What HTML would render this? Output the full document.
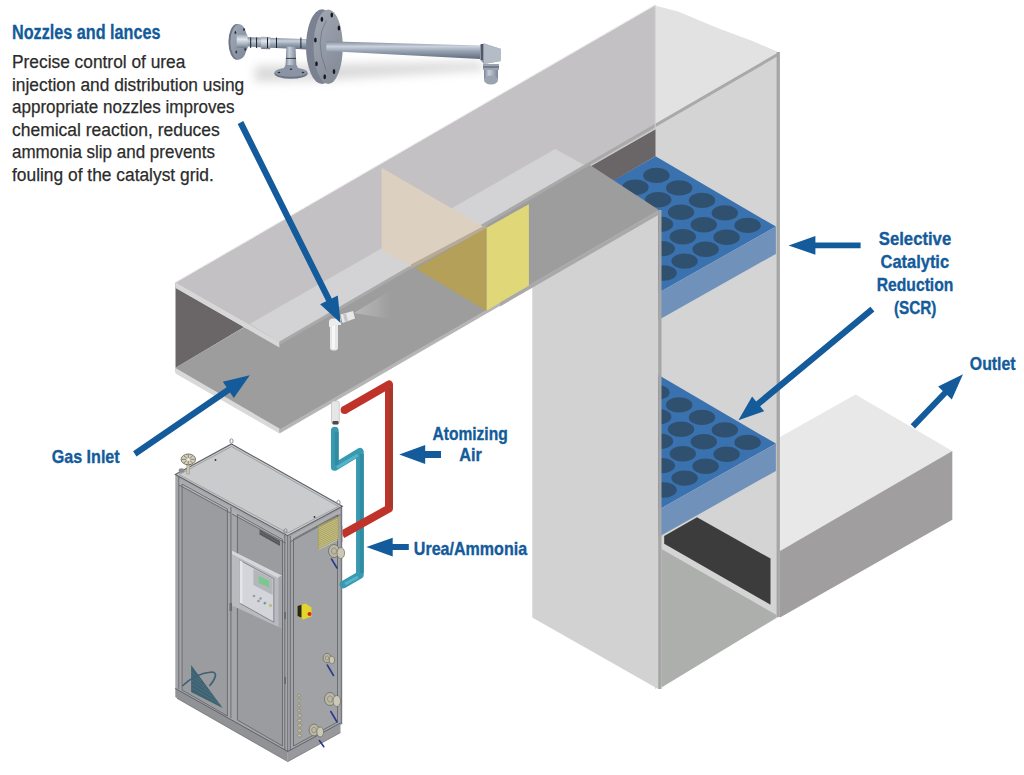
<!DOCTYPE html>
<html><head><meta charset="utf-8"><title>SCR system</title>
<style>
html,body{margin:0;padding:0;background:#ffffff;overflow:hidden;}
body{width:1024px;height:775px;font-family:"Liberation Sans",sans-serif;}
svg{display:block;}
</style></head>
<body>
<svg width="1024" height="775" viewBox="0 0 1024 775">
<defs>
  <clipPath id="scr1"><polygon points="655.5,156.3 775.9,226.6 600,325.8 540,222"/></clipPath>
  <clipPath id="scr2"><polygon points="655.5,373.3 775.9,443.6 600,542.8 540,439"/></clipPath>
  <linearGradient id="pipeg" x1="0" y1="0" x2="0" y2="1">
    <stop offset="0" stop-color="#7d8898"/>
    <stop offset="0.3" stop-color="#c9d1dc"/>
    <stop offset="0.55" stop-color="#98a4b4"/>
    <stop offset="1" stop-color="#5f6a7a"/>
  </linearGradient>
  <linearGradient id="flg" x1="0" y1="0" x2="1" y2="1">
    <stop offset="0" stop-color="#a2abb8"/>
    <stop offset="1" stop-color="#7c8696"/>
  </linearGradient>
  <linearGradient id="pipeg2" x1="0" y1="0" x2="0" y2="1">
    <stop offset="0" stop-color="#9aa4b2"/>
    <stop offset="0.35" stop-color="#e4e8ee"/>
    <stop offset="0.7" stop-color="#a8b2c0"/>
    <stop offset="1" stop-color="#6a7484"/>
  </linearGradient>
  <linearGradient id="pipeh" x1="0" y1="0" x2="1" y2="0">
    <stop offset="0" stop-color="#7a8494"/>
    <stop offset="0.35" stop-color="#c6ced8"/>
    <stop offset="1" stop-color="#7c8696"/>
  </linearGradient>
  <linearGradient id="flf" x1="0" y1="0" x2="0.6" y2="1">
    <stop offset="0" stop-color="#a4aab4"/>
    <stop offset="1" stop-color="#858c98"/>
  </linearGradient>
  <filter id="blur5" x="-20%" y="-100%" width="140%" height="300%"><feGaussianBlur stdDeviation="5"/></filter>
  <radialGradient id="shad" cx="0.5" cy="0.5" r="0.5">
    <stop offset="0" stop-color="#d8d8d8" stop-opacity="0.9"/>
    <stop offset="1" stop-color="#ffffff" stop-opacity="0"/>
  </radialGradient>
  <linearGradient id="spray" x1="0" y1="0" x2="1" y2="0">
    <stop offset="0" stop-color="#bcbcbc" stop-opacity="0.9"/>
    <stop offset="0.6" stop-color="#b0b0b0" stop-opacity="0.6"/>
    <stop offset="1" stop-color="#a0a0a0" stop-opacity="0"/>
  </linearGradient>
  <linearGradient id="redg" x1="0" y1="0" x2="1" y2="0">
    <stop offset="0" stop-color="#c8342a"/>
    <stop offset="1" stop-color="#a8382c"/>
  </linearGradient>
</defs>
<polygon points="255,66 330,64 480,62 485,70 330,80 255,82" fill="#cfcfcf" opacity="0.75" filter="url(#blur5)"/>
<ellipse cx="237" cy="41.9" rx="8.6" ry="17.8" fill="#6e7686"/>
<ellipse cx="239" cy="41.9" rx="8.6" ry="17.6" fill="url(#flg)"/>
<ellipse cx="244" cy="29.5" rx="0.9" ry="1.5" fill="#2a3346"/>
<ellipse cx="235.4" cy="32.6" rx="0.9" ry="1.5" fill="#2a3346"/>
<ellipse cx="236.3" cy="52" rx="0.9" ry="1.5" fill="#2a3346"/>
<ellipse cx="245.3" cy="49.3" rx="0.9" ry="1.5" fill="#2a3346"/>
<polygon points="247,37.1 318,39.5 318,50 247,46.6" fill="url(#pipeg)"/>
<polygon points="236.7,34.4 247.6,35 247.6,48.4 236.7,47.5" fill="url(#pipeg2)"/>
<polygon points="261.1,36.7 270.2,36.9 270.2,49.3 261.1,49" fill="url(#pipeg2)"/>
<line x1="250.7" y1="37.5" x2="250.7" y2="48.0" stroke="#1c2026" stroke-width="1.0" />
<line x1="256.6" y1="37.5" x2="256.6" y2="48.0" stroke="#1c2026" stroke-width="1.0" />
<line x1="267.5" y1="37.5" x2="267.5" y2="48.0" stroke="#1c2026" stroke-width="1.0" />
<line x1="276.5" y1="37.5" x2="276.5" y2="48.0" stroke="#1c2026" stroke-width="1.0" />
<line x1="300.9" y1="37.5" x2="300.9" y2="48.0" stroke="#1c2026" stroke-width="1.0" />
<polygon points="286.4,46.6 295.5,47 296.5,69 285.4,69" fill="url(#pipeh)"/>
<line x1="286.0" y1="58.4" x2="296.0" y2="58.4" stroke="#2a2e36" stroke-width="0.9" />
<ellipse cx="291" cy="73.6" rx="16.7" ry="5.2" fill="#6c7484"/>
<ellipse cx="291" cy="72.2" rx="16.3" ry="4.6" fill="#8a94a4"/>
<polygon points="285.5,65 296.5,65 299.5,71 282.5,71" fill="#8a94a4"/>
<ellipse cx="279" cy="72.5" rx="1.3" ry="0.7" fill="#2a2e36"/>
<ellipse cx="303" cy="72.5" rx="1.3" ry="0.7" fill="#2a2e36"/>
<ellipse cx="291" cy="69.3" rx="1.3" ry="0.7" fill="#2a2e36"/>
<ellipse cx="322" cy="46.7" rx="16" ry="37.4" fill="#7a8292"/>
<ellipse cx="328.2" cy="46.7" rx="14.6" ry="37.3" fill="url(#flf)"/>
<path d="M 326.3 20.4 Q 314 41 326.3 70.8" fill="none" stroke="#6c7686" stroke-width="0.8"/>
<ellipse cx="331.8" cy="14.9" rx="1.3" ry="2.5" fill="#16191e"/>
<ellipse cx="321.9" cy="19.3" rx="1.3" ry="2.5" fill="#16191e"/>
<ellipse cx="338.9" cy="28" rx="1.3" ry="2.5" fill="#16191e"/>
<ellipse cx="315.4" cy="40.1" rx="1.3" ry="2.5" fill="#16191e"/>
<ellipse cx="316.5" cy="63.7" rx="1.3" ry="2.5" fill="#16191e"/>
<ellipse cx="334" cy="71.4" rx="1.3" ry="2.5" fill="#16191e"/>
<ellipse cx="324.7" cy="76.8" rx="1.3" ry="2.5" fill="#16191e"/>
<polygon points="326.3,41.2 480,45.5 480,59 326.3,51.1" fill="url(#pipeg)"/>
<polygon points="480,44.5 484,43.5 501,49 501,61 484,64 480,59.5" fill="#8d98a8"/>
<polygon points="484,43.5 501,49 501,61 484,64" fill="#b4bcc8"/>
<line x1="482.0" y1="44.0" x2="482.0" y2="60.0" stroke="#2a2e36" stroke-width="1.2" />
<rect x="483" y="64" width="16" height="6" fill="#9aa4b2"/>
<rect x="484" y="70" width="14" height="9" fill="url(#pipeh)"/>
<ellipse cx="491" cy="80" rx="7" ry="4.5" fill="#9aa4b0"/>
<line x1="483.0" y1="67.0" x2="499.0" y2="67.0" stroke="#3a3f48" stroke-width="0.8" />
<polygon points="655.0,5.4 678.8,11.8 717.5,27.9 751.9,40.8 778.7,52.2 778.7,54.0 655.0,125.0" fill="#e2e2e2" />
<polygon points="655.0,124.6 778.7,53.7 778.7,617.0 655.0,689.0" fill="#d4d4d4" />
<polygon points="175.0,283.0 655.0,5.4 655.0,129.3 279.4,344.0 175.0,288.0" fill="#c3c1c3" />
<line x1="175.0" y1="282.6" x2="655.0" y2="5.0" stroke="#e6e6e6" stroke-width="1.0" />
<polygon points="655.5,156.3 775.9,226.6 600.0,325.8 540.0,222.0" fill="#3a72b0" />
<g clip-path="url(#scr1)"><ellipse cx="747.6" cy="225.4" rx="13.2" ry="7.7" fill="#30506f"/><ellipse cx="726.6" cy="237.3" rx="13.2" ry="7.7" fill="#30506f"/><ellipse cx="705.6" cy="249.2" rx="13.2" ry="7.7" fill="#30506f"/><ellipse cx="684.6" cy="261.1" rx="13.2" ry="7.7" fill="#30506f"/><ellipse cx="663.6" cy="273.0" rx="13.2" ry="7.7" fill="#30506f"/><ellipse cx="642.6" cy="284.9" rx="13.2" ry="7.7" fill="#30506f"/><ellipse cx="621.6" cy="296.8" rx="13.2" ry="7.7" fill="#30506f"/><ellipse cx="724.8" cy="212.9" rx="13.2" ry="7.7" fill="#30506f"/><ellipse cx="703.8" cy="224.8" rx="13.2" ry="7.7" fill="#30506f"/><ellipse cx="682.8" cy="236.7" rx="13.2" ry="7.7" fill="#30506f"/><ellipse cx="661.8" cy="248.6" rx="13.2" ry="7.7" fill="#30506f"/><ellipse cx="640.8" cy="260.5" rx="13.2" ry="7.7" fill="#30506f"/><ellipse cx="619.8" cy="272.4" rx="13.2" ry="7.7" fill="#30506f"/><ellipse cx="702.0" cy="200.4" rx="13.2" ry="7.7" fill="#30506f"/><ellipse cx="681.0" cy="212.3" rx="13.2" ry="7.7" fill="#30506f"/><ellipse cx="660.0" cy="224.2" rx="13.2" ry="7.7" fill="#30506f"/><ellipse cx="639.0" cy="236.1" rx="13.2" ry="7.7" fill="#30506f"/><ellipse cx="618.0" cy="248.0" rx="13.2" ry="7.7" fill="#30506f"/><ellipse cx="679.2" cy="187.9" rx="13.2" ry="7.7" fill="#30506f"/><ellipse cx="658.2" cy="199.8" rx="13.2" ry="7.7" fill="#30506f"/><ellipse cx="637.2" cy="211.7" rx="13.2" ry="7.7" fill="#30506f"/><ellipse cx="616.2" cy="223.6" rx="13.2" ry="7.7" fill="#30506f"/><ellipse cx="656.4" cy="175.4" rx="13.2" ry="7.7" fill="#30506f"/><ellipse cx="635.4" cy="187.3" rx="13.2" ry="7.7" fill="#30506f"/><ellipse cx="614.4" cy="199.2" rx="13.2" ry="7.7" fill="#30506f"/></g>
<polygon points="775.9,226.6 775.9,253.9 600.0,353.0 600.0,325.8" fill="#7092ba" />
<polygon points="655.5,373.3 775.9,443.6 600.0,542.8 540.0,439.0" fill="#3a72b0" />
<g clip-path="url(#scr2)"><ellipse cx="747.6" cy="442.4" rx="13.2" ry="7.7" fill="#30506f"/><ellipse cx="726.6" cy="454.3" rx="13.2" ry="7.7" fill="#30506f"/><ellipse cx="705.6" cy="466.2" rx="13.2" ry="7.7" fill="#30506f"/><ellipse cx="684.6" cy="478.1" rx="13.2" ry="7.7" fill="#30506f"/><ellipse cx="663.6" cy="490.0" rx="13.2" ry="7.7" fill="#30506f"/><ellipse cx="642.6" cy="501.9" rx="13.2" ry="7.7" fill="#30506f"/><ellipse cx="621.6" cy="513.8" rx="13.2" ry="7.7" fill="#30506f"/><ellipse cx="724.8" cy="429.9" rx="13.2" ry="7.7" fill="#30506f"/><ellipse cx="703.8" cy="441.8" rx="13.2" ry="7.7" fill="#30506f"/><ellipse cx="682.8" cy="453.7" rx="13.2" ry="7.7" fill="#30506f"/><ellipse cx="661.8" cy="465.6" rx="13.2" ry="7.7" fill="#30506f"/><ellipse cx="640.8" cy="477.5" rx="13.2" ry="7.7" fill="#30506f"/><ellipse cx="619.8" cy="489.4" rx="13.2" ry="7.7" fill="#30506f"/><ellipse cx="702.0" cy="417.4" rx="13.2" ry="7.7" fill="#30506f"/><ellipse cx="681.0" cy="429.3" rx="13.2" ry="7.7" fill="#30506f"/><ellipse cx="660.0" cy="441.2" rx="13.2" ry="7.7" fill="#30506f"/><ellipse cx="639.0" cy="453.1" rx="13.2" ry="7.7" fill="#30506f"/><ellipse cx="618.0" cy="465.0" rx="13.2" ry="7.7" fill="#30506f"/><ellipse cx="679.2" cy="404.9" rx="13.2" ry="7.7" fill="#30506f"/><ellipse cx="658.2" cy="416.8" rx="13.2" ry="7.7" fill="#30506f"/><ellipse cx="637.2" cy="428.7" rx="13.2" ry="7.7" fill="#30506f"/><ellipse cx="616.2" cy="440.6" rx="13.2" ry="7.7" fill="#30506f"/><ellipse cx="656.4" cy="392.4" rx="13.2" ry="7.7" fill="#30506f"/><ellipse cx="635.4" cy="404.3" rx="13.2" ry="7.7" fill="#30506f"/><ellipse cx="614.4" cy="416.2" rx="13.2" ry="7.7" fill="#30506f"/></g>
<polygon points="775.9,443.6 775.9,470.9 600.0,570.0 600.0,542.8" fill="#7092ba" />
<polygon points="589.3,167.1 655.5,129.3 655.5,156.3 613.3,180.8" fill="#6a6668" />
<polygon points="249.7,323.9 555.2,149.1 585.5,165.7 279.4,341.9" fill="#d3d3d5" />
<polygon points="175.5,367.7 244.2,327.3 279.4,343.0 589.3,164.5 658.2,209.5 658.2,213.0 279.5,432.5 175.5,372.0" fill="#9d9d9d" />
<polygon points="354,313 392,289.5 394,319.5" fill="url(#spray)"/>
<polygon points="175.5,287.5 244.2,327.0 175.5,367.7" fill="#6a6668" />
<polygon points="175.5,282.5 279.4,341.9 279.4,347.4 175.5,288.0" fill="#d7d7d8" />
<polygon points="175.5,368.0 279.5,428.5 279.5,433.5 175.5,373.5" fill="#d9d9d9" />
<polygon points="279.5,429.5 658.2,210.5 658.2,214.0 279.5,433.5" fill="#b5b5b5" />
<polygon points="279.4,341.5 779.0,52.0 779.0,55.5 279.4,345.0" fill="#a9a9a9" />
<polygon points="381.6,167.8 486.5,228.6 411.0,266.5 381.6,250.1" fill="#dcd1c1" />
<polygon points="411.0,264.5 486.5,224.6 486.5,228.6 411.0,268.5" fill="#b8aa94" />
<polygon points="415.8,268.5 486.7,227.7 486.7,311.0" fill="#b4a058" />
<polygon points="486.7,227.7 528.9,204.2 528.9,286.0 486.7,310.6" fill="#e0d878" />
<polygon points="532.3,285.0 658.2,212.5 658.2,689.0 532.3,617.4" fill="#d2d2d2" />
<polygon points="500.0,302.5 658.2,211.0 658.2,215.0 500.0,306.5" fill="#a9a9a9" />
<rect x="658.2" y="210" width="3.3" height="479" fill="#a6a6a6"/>
<rect x="776.6" y="52" width="3.3" height="565" fill="#a6a6a6"/>
<line x1="655.2" y1="5.4" x2="655.2" y2="129.0" stroke="#d0d0d0" stroke-width="1" />
<polygon points="664.2,535.9 697.0,517.2 770.5,558.6 770.5,604.7 664.2,543.8" fill="#3c3c3c" />
<polygon points="661.5,549.0 776.6,615.0 776.6,617.5 661.5,687.5" fill="#adafad" />
<polygon points="780.0,436.9 855.6,394.6 952.3,450.9 780.0,551.0" fill="#e8e8e8" />
<polygon points="780.0,551.0 952.3,450.9 952.3,519.7 780.0,617.5" fill="#a09e9e" />
<polygon points="175.3,474.6 287.6,535.7 287.6,752.0 175.3,689.0" fill="#a4a6aa" />
<polygon points="287.6,535.7 342.3,506.3 342.3,724.0 287.6,752.0" fill="#a2a4a8" />
<polygon points="175.3,688.0 287.8,751.0 287.8,761.6 177.0,698.3 175.3,697.0" fill="#909296" />
<polygon points="287.8,751.0 340.5,722.5 340.5,732.6 287.8,761.6" fill="#97999d" />
<polyline points="175.3,688.5 287.8,751.5 340.5,723" fill="none" stroke="#5c5e62" stroke-width="0.9"/>
<polyline points="177,698.3 287.8,761.6 340.5,732.6" fill="none" stroke="#6e7074" stroke-width="0.8"/>
<polygon points="182.0,484.0 227.4,509.0 227.4,716.0 182.0,690.0" fill="#9a9ca0" />
<polygon points="237.4,514.5 282.5,539.5 282.5,746.0 237.4,720.0" fill="#9a9ca0" />
<polygon points="293.5,539.0 337.5,515.0 337.5,722.0 293.5,746.0" fill="#a0a2a6" />
<polygon points="178.8,479.0 230.4,507.3 230.4,513.0 178.8,484.7" fill="#aeb0b4" />
<polygon points="231.5,508.0 285.5,537.5 285.5,543.0 231.5,513.7" fill="#aeb0b4" />
<polygon points="289.5,537.0 340.5,509.5 340.5,514.5 289.5,542.0" fill="#aeb0b4" />
<g fill="none" stroke="#5e6064" stroke-width="0.8">
<polyline points="178.8,477 178.8,689"/>
<polyline points="182,484 227.4,509 227.4,716 182,690 182,484"/>
<polyline points="237.4,514.5 282.5,539.5 282.5,746 237.4,720 237.4,514.5"/>
<polyline points="293.5,539 337.5,515 337.5,722 293.5,746 293.5,539"/>
<polyline points="230.9,507 230.9,718"/>
<polyline points="287.6,535.7 287.6,752"/>
<polyline points="290.3,536 290.3,750"/>
<polyline points="284.8,535 284.8,750"/>
<polyline points="341.3,507 341.3,724"/>
<polyline points="179,485 230.4,513"/>
<polyline points="232,514 285.5,543"/>
<polyline points="290,542 340.5,514.5"/>
</g>
<g fill="none" stroke="#8a8c90" stroke-width="0.5" stroke-dasharray="1 1.2">
<polyline points="180,481 229,507.8"/>
<polyline points="233,510 284,538"/>
<polyline points="291,539.5 339,513"/>
</g>
<polygon points="231.5,444.0 342.3,506.3 287.6,535.7 175.3,474.6" fill="#c9cbcd" />
<polygon points="231.5,444 342.3,506.3 287.6,535.7 175.3,474.6" fill="none" stroke="#5e6064" stroke-width="1.1"/>
<polygon points="231.5,446.5 338.5,506.5 287.6,533 179,474.6" fill="none" stroke="#8c8e92" stroke-width="0.7"/>
<circle cx="215.5" cy="460" r="0.9" fill="#333"/>
<circle cx="314.5" cy="517" r="0.9" fill="#333"/>
<polygon points="259.5,529.5 280.0,541.0 280.0,546.0 259.5,534.5" fill="#56585c" />
<polyline points="260,532 279.5,543.3" stroke="#8a8c90" stroke-width="0.6" stroke-dasharray="1 0.8" fill="none"/>
<polygon points="232.0,550.8 281.9,575.8 281.9,628.6 232.0,605.4" fill="#b8bac0" />
<polygon points="232.0,550.8 281.9,575.8 279.0,578.5 232.0,554.0" fill="#d6d7dc" />
<polygon points="278.5,577.0 281.9,575.8 281.9,628.6 278.5,627.0" fill="#a4a6ac" />
<polygon points="239.5,560.1 273.8,578.7 273.8,622.2 239.5,603.0" fill="#d4d5da" stroke="#6a6c72" stroke-width="0.7"/>
<polygon points="239.5,560.1 242.5,561.7 242.5,603.5 239.5,603.0" fill="#e4e5e8" />
<polygon points="253.4,568.8 272.6,578.7 272.6,595.0 253.4,585.0" fill="#b4b6bc" />
<polygon points="258.7,575.8 269.1,581.0 269.1,587.4 258.7,582.7" fill="#7ac88e" />
<circle cx="254" cy="596" r="1.3" fill="#9a9ca2"/>
<circle cx="258.5" cy="601" r="1.3" fill="#9a9ca2"/>
<circle cx="260.5" cy="598.5" r="1.3" fill="#9a9ca2"/>
<circle cx="265" cy="603" r="1.3" fill="#9a9ca2"/>
<circle cx="270.5" cy="605.5" r="1.3" fill="#9a9ca2"/>
<circle cx="270.5" cy="605.5" r="1.2" fill="#c8c070"/>
<circle cx="264.5" cy="603.5" r="0.9" fill="#58a868"/>
<rect x="229.5" y="603" width="2.5" height="8" fill="#6a6c70"/>
<rect x="284" y="612" width="2" height="7" fill="#6a6c70"/>
<rect x="284" y="677" width="2" height="7" fill="#6a6c70"/>
<polygon points="297.5,606.0 305.5,603.5 311.5,607.5 311.5,616.5 303.5,619.5 297.5,616.0" fill="#e2d62a" />
<polygon points="297.5,606.0 301.5,604.8 301.5,617.8 297.5,616.0" fill="#26261e" />
<circle cx="309.5" cy="614" r="2" fill="#d82818"/>
<polygon points="317.9,526.2 338.7,516.3 338.7,538.8 317.9,549.2" fill="#a8a05c" />
<g stroke="#dcd8ac" stroke-width="0.6">
<line x1="318.8" y1="528.5" x2="337.8" y2="518.9"/>
<line x1="318.8" y1="530.4" x2="337.8" y2="520.8"/>
<line x1="318.8" y1="532.3" x2="337.8" y2="522.7"/>
<line x1="318.8" y1="534.2" x2="337.8" y2="524.6"/>
<line x1="318.8" y1="536.1" x2="337.8" y2="526.5"/>
<line x1="318.8" y1="538.0" x2="337.8" y2="528.4"/>
<line x1="318.8" y1="539.9" x2="337.8" y2="530.3"/>
<line x1="318.8" y1="541.8" x2="337.8" y2="532.2"/>
<line x1="318.8" y1="543.7" x2="337.8" y2="534.1"/>
<line x1="318.8" y1="545.6" x2="337.8" y2="536.0"/>
<line x1="318.8" y1="547.5" x2="337.8" y2="537.9"/>
<line x1="318.8" y1="549.4" x2="337.8" y2="539.8"/>
</g>
<polygon points="191.1,665 222.7,708 191.1,692" fill="#3e6272"/>
<g stroke="#5a7e8c" stroke-width="0.5">
<line x1="191.3" y1="672.0" x2="201.0" y2="681.0"/>
<line x1="191.5" y1="676.0" x2="206.0" y2="687.0"/>
<line x1="191.7" y1="680.0" x2="211.0" y2="693.0"/>
<line x1="191.9" y1="684.0" x2="216.0" y2="699.0"/>
<line x1="192.1" y1="688.0" x2="221.0" y2="705.0"/>
</g>
<path d="M 182.3 686 Q 196 673 212 672 Q 220 673 209.5 686" fill="none" stroke="#3e6272" stroke-width="1.7"/>
<rect x="186.8" y="462" width="3" height="12" fill="#c8c4b0" stroke="#8a8674" stroke-width="0.4"/>
<ellipse cx="188.3" cy="459.4" rx="7.2" ry="5.4" fill="#d4d0bc" stroke="#6c685a" stroke-width="0.9"/>
<path d="M 182 459.4 L 194.6 459.4 M 188.3 454.5 L 188.3 464 M 184 456 L 192.6 462.8 M 192.6 456 L 184 462.8" stroke="#6c685a" stroke-width="0.7"/>
<ellipse cx="188.3" cy="459.4" rx="2" ry="1.5" fill="#eeeae0"/>
<ellipse cx="181.5" cy="470.5" rx="2.8" ry="2.2" fill="#8a8c90"/>
<ellipse cx="231.5" cy="441" rx="1.6" ry="2.2" fill="none" stroke="#8a8c90" stroke-width="1"/>
<ellipse cx="338.5" cy="502.5" rx="1.6" ry="2.2" fill="none" stroke="#8a8c90" stroke-width="1"/>
<ellipse cx="285.5" cy="531" rx="1.6" ry="2.2" fill="none" stroke="#8a8c90" stroke-width="1"/>
<ellipse cx="334" cy="551" rx="5.5" ry="6.5" fill="#bcb8a6" stroke="#6e6a5e" stroke-width="0.8"/>
<ellipse cx="340.8" cy="553.0" rx="3.8" ry="5.5" fill="#ccc8b6" stroke="#6e6a5e" stroke-width="0.7"/>
<ellipse cx="334" cy="551" rx="2.5" ry="3.2" fill="none" stroke="#7e7a6c" stroke-width="0.6"/>
<ellipse cx="327" cy="658" rx="3.9" ry="4.7" fill="#bcb8a6" stroke="#6e6a5e" stroke-width="0.8"/>
<ellipse cx="331.9" cy="660.0" rx="2.7" ry="3.9" fill="#ccc8b6" stroke="#6e6a5e" stroke-width="0.7"/>
<ellipse cx="327" cy="658" rx="1.8" ry="2.2" fill="none" stroke="#7e7a6c" stroke-width="0.6"/>
<ellipse cx="330" cy="699" rx="5.5" ry="6.5" fill="#bcb8a6" stroke="#6e6a5e" stroke-width="0.8"/>
<ellipse cx="336.8" cy="701.0" rx="3.8" ry="5.5" fill="#ccc8b6" stroke="#6e6a5e" stroke-width="0.7"/>
<ellipse cx="330" cy="699" rx="2.5" ry="3.2" fill="none" stroke="#7e7a6c" stroke-width="0.6"/>
<ellipse cx="314" cy="730" rx="4.9" ry="5.9" fill="#bcb8a6" stroke="#6e6a5e" stroke-width="0.8"/>
<ellipse cx="320.2" cy="732.0" rx="3.4" ry="4.9" fill="#ccc8b6" stroke="#6e6a5e" stroke-width="0.7"/>
<ellipse cx="314" cy="730" rx="2.3" ry="2.8" fill="none" stroke="#7e7a6c" stroke-width="0.6"/>
<line x1="331.5" y1="559" x2="337" y2="568" stroke="#2a3a8c" stroke-width="1.6" stroke-linecap="round"/>
<line x1="327.3" y1="665" x2="333.5" y2="675.5" stroke="#2a3a8c" stroke-width="1.6" stroke-linecap="round"/>
<line x1="330.8" y1="711.5" x2="337" y2="722" stroke="#2a3a8c" stroke-width="1.6" stroke-linecap="round"/>
<line x1="319.4" y1="740.5" x2="323.8" y2="746.7" stroke="#2a3a8c" stroke-width="1.6" stroke-linecap="round"/>
<g fill="#c8c09a" stroke="#7a7458" stroke-width="0.5">
<ellipse cx="299.0" cy="695.5" rx="1.3" ry="1.6"/>
<ellipse cx="299.0" cy="700.5" rx="1.3" ry="1.6"/>
<ellipse cx="299.0" cy="705.5" rx="1.3" ry="1.6"/>
<ellipse cx="299.0" cy="710.5" rx="1.3" ry="1.6"/>
<ellipse cx="299.6" cy="715.5" rx="1.9" ry="1.6"/>
<ellipse cx="299.6" cy="720.5" rx="1.9" ry="1.6"/>
<ellipse cx="299.6" cy="725.5" rx="1.9" ry="1.6"/>
<ellipse cx="299.6" cy="730.5" rx="1.9" ry="1.6"/>
<ellipse cx="299.6" cy="735.5" rx="1.9" ry="1.6"/>
</g>
<rect x="331.5" y="401" width="7.8" height="23" rx="2" fill="#e6e6e6" stroke="#b4b4b4" stroke-width="0.6"/>
<rect x="332.5" y="421" width="6" height="3.5" rx="1" fill="#4a4a4a"/>
<polyline points="334.8,430.5 334.8,467 359.9,451.8 359.9,575 343.5,584.5" fill="none" stroke="#3899b0" stroke-width="7.7" stroke-linecap="round" stroke-linejoin="round"/>
<polyline points="361.8,454 361.8,573" fill="none" stroke="#2f8ca2" stroke-width="3.8"/>
<polyline points="336.7,432 336.7,465" fill="none" stroke="#2f8ca2" stroke-width="3.8"/>
<polyline points="337,467.5 358,455" fill="none" stroke="#56b4ca" stroke-width="3"/>
<polyline points="345,584 358,577" fill="none" stroke="#56b4ca" stroke-width="3"/>
<polyline points="344.6,410 389,384.5 389,508.6 342.3,534.5" fill="none" stroke="#c0332a" stroke-width="8" stroke-linecap="butt" stroke-linejoin="round"/>
<circle cx="344.6" cy="410" r="4" fill="#c0332a"/>
<polyline points="391,388 391,507" fill="none" stroke="#a6392c" stroke-width="4"/>
<rect x="340" y="526" width="2.6" height="16" fill="#a3a5a9"/>
<line x1="341.3" y1="526" x2="341.3" y2="542" stroke="#5e6064" stroke-width="0.8"/>
<rect x="330" y="321" width="8" height="29.5" rx="3" fill="#e6e6e6"/>
<rect x="332" y="322" width="3" height="27" fill="#f6f6f6"/>
<path d="M 329 327 L 329 322 Q 329 318.5 333 318.5 L 341 318.5 L 341 325 L 336 325 Z" fill="#ececec"/>
<polygon points="340.5,314.5 353,311 355,318.5 342.5,323" fill="#e8e8e8"/>
<polygon points="343,314 346,313.2 348,321 345,322" fill="#c4c4c4"/>
<polygon points="237.7,123.9 326.2,301.2 320.1,304.3 340.6,323.1 337.8,295.4 331.8,298.5 243.3,121.1" fill="#135b9a" />
<polygon points="136.5,456.4 230.1,392.4 233.8,397.9 249.8,375.2 222.8,381.8 226.6,387.3 133.1,451.2" fill="#135b9a" />
<polygon points="441.0,450.9 425.2,450.9 425.2,445.0 399.2,454.5 425.2,464.0 425.2,458.1 441.0,458.1" fill="#135b9a" />
<polygon points="408.8,544.1 392.7,544.1 392.7,537.8 366.4,547.1 392.7,556.4 392.7,550.1 408.8,550.1" fill="#135b9a" />
<polygon points="860.6,242.5 815.4,242.5 815.4,236.1 788.6,245.4 815.4,254.8 815.4,248.3 860.6,248.3" fill="#135b9a" />
<polygon points="870.4,306.8 756.1,401.5 752.1,396.6 738.4,420.2 764.2,411.2 760.1,406.3 874.4,311.6" fill="#135b9a" />
<polygon points="915.1,428.5 947.1,395.1 951.8,399.6 963.0,374.3 938.1,386.5 942.8,391.0 910.7,424.3" fill="#135b9a" />
<text x="12" y="38.8" font-family="Liberation Sans, sans-serif" font-weight="bold" font-size="19.4" fill="#135b9a" stroke="#135b9a" stroke-width="0.3" textLength="148.4" lengthAdjust="spacingAndGlyphs">Nozzles and lances</text>
<text x="12" y="68.0" font-family="Liberation Sans, sans-serif" font-size="19.2" fill="#2b2b2b" stroke="#2b2b2b" stroke-width="0.25" textLength="173.4" lengthAdjust="spacingAndGlyphs">Precise control of urea</text>
<text x="12" y="90.6" font-family="Liberation Sans, sans-serif" font-size="19.2" fill="#2b2b2b" stroke="#2b2b2b" stroke-width="0.25" textLength="232.2" lengthAdjust="spacingAndGlyphs">injection and distribution using</text>
<text x="12" y="113.2" font-family="Liberation Sans, sans-serif" font-size="19.2" fill="#2b2b2b" stroke="#2b2b2b" stroke-width="0.25" textLength="222.6" lengthAdjust="spacingAndGlyphs">appropriate nozzles improves</text>
<text x="12" y="135.8" font-family="Liberation Sans, sans-serif" font-size="19.2" fill="#2b2b2b" stroke="#2b2b2b" stroke-width="0.25" textLength="207.8" lengthAdjust="spacingAndGlyphs">chemical reaction, reduces</text>
<text x="12" y="158.4" font-family="Liberation Sans, sans-serif" font-size="19.2" fill="#2b2b2b" stroke="#2b2b2b" stroke-width="0.25" textLength="203.0" lengthAdjust="spacingAndGlyphs">ammonia slip and prevents</text>
<text x="12" y="181.0" font-family="Liberation Sans, sans-serif" font-size="19.2" fill="#2b2b2b" stroke="#2b2b2b" stroke-width="0.25" textLength="201.8" lengthAdjust="spacingAndGlyphs">fouling of the catalyst grid.</text>
<text x="878.8" y="244.7" font-family="Liberation Sans, sans-serif" font-weight="bold" font-size="18.6" fill="#135b9a" stroke="#135b9a" stroke-width="0.35" textLength="72.4" lengthAdjust="spacingAndGlyphs">Selective</text>
<text x="880.5" y="267.5" font-family="Liberation Sans, sans-serif" font-weight="bold" font-size="18.6" fill="#135b9a" stroke="#135b9a" stroke-width="0.35" textLength="68.6" lengthAdjust="spacingAndGlyphs">Catalytic</text>
<text x="876.7" y="290.5" font-family="Liberation Sans, sans-serif" font-weight="bold" font-size="18.6" fill="#135b9a" stroke="#135b9a" stroke-width="0.35" textLength="76.7" lengthAdjust="spacingAndGlyphs">Reduction</text>
<text x="893.9" y="313.5" font-family="Liberation Sans, sans-serif" font-weight="bold" font-size="18.6" fill="#135b9a" stroke="#135b9a" stroke-width="0.35" textLength="42.5" lengthAdjust="spacingAndGlyphs">(SCR)</text>
<text x="969.8" y="369.8" font-family="Liberation Sans, sans-serif" font-weight="bold" font-size="18.6" fill="#135b9a" stroke="#135b9a" stroke-width="0.35" textLength="45.8" lengthAdjust="spacingAndGlyphs">Outlet</text>
<text x="51.7" y="462.7" font-family="Liberation Sans, sans-serif" font-weight="bold" font-size="18.6" fill="#135b9a" stroke="#135b9a" stroke-width="0.35" textLength="68.0" lengthAdjust="spacingAndGlyphs">Gas Inlet</text>
<text x="432.5" y="439.5" font-family="Liberation Sans, sans-serif" font-weight="bold" font-size="18.6" fill="#135b9a" stroke="#135b9a" stroke-width="0.35" textLength="75.2" lengthAdjust="spacingAndGlyphs">Atomizing</text>
<text x="459.3" y="461.3" font-family="Liberation Sans, sans-serif" font-weight="bold" font-size="18.6" fill="#135b9a" stroke="#135b9a" stroke-width="0.35" textLength="22.6" lengthAdjust="spacingAndGlyphs">Air</text>
<text x="413.8" y="554.5" font-family="Liberation Sans, sans-serif" font-weight="bold" font-size="18.6" fill="#135b9a" stroke="#135b9a" stroke-width="0.35" textLength="113.3" lengthAdjust="spacingAndGlyphs">Urea/Ammonia</text></svg>
</body></html>
